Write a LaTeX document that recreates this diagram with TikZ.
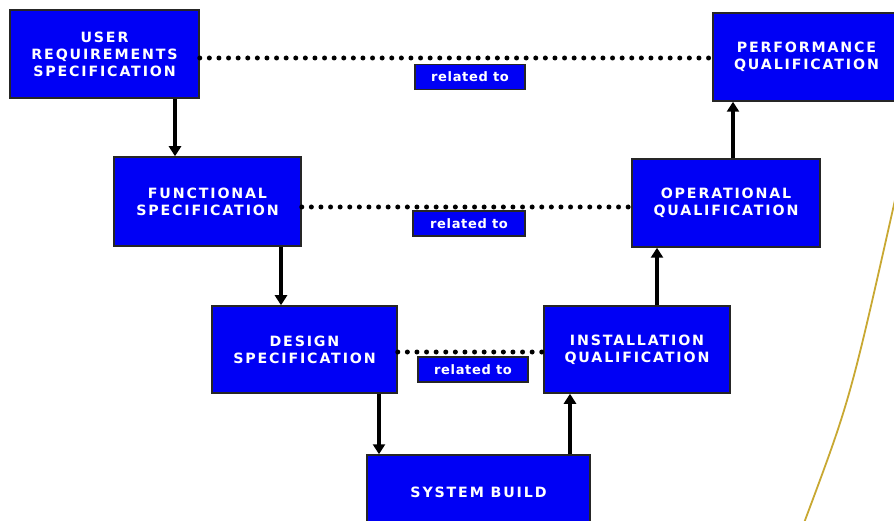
\documentclass[tikz,border=0pt]{standalone}
\usepackage{fontspec}
\setmainfont{DejaVu Sans}
\newfontfamily\boxfont[LetterSpace=13]{DejaVu Sans Bold}
\newfontfamily\relfont[LetterSpace=5]{DejaVu Sans Bold}
\usetikzlibrary{arrows.meta}
\definecolor{vblue}{RGB}{0,0,245}
\definecolor{gold}{RGB}{200,168,50}
\begin{document}
\begin{tikzpicture}[x=1pt,y=-1pt,
  stage/.style={draw=black!85,line width=1.5pt,fill=vblue,text=white,align=center,
    inner sep=0pt,font=\boxfont\fontsize{14.2}{17}\selectfont},
  rel/.style={draw=black!85,line width=1.5pt,fill=vblue,text=white,inner sep=0pt,
    minimum width=110pt,minimum height=25pt,font=\relfont\fontsize{13}{14}\selectfont},
  arr/.style={line width=4pt,-{Triangle[width=12pt,length=10pt]}},
  dots/.style={line width=5pt,line cap=round,dash pattern=on 0pt off 9.6pt}]
\useasboundingbox (0,0) rectangle (894,521);
\clip (0,0) rectangle (894,521);
\node[stage,minimum width=189pt,minimum height=88pt] (URS) at (104.5,54) {USER\\REQUIREMENTS\\SPECIFICATION};
\node[stage,minimum width=187pt,minimum height=88pt] (PQ) at (806.5,57) {PERFORMANCE\\QUALIFICATION};
\node[stage,minimum width=187pt,minimum height=89pt] (FS) at (207.5,201.5) {FUNCTIONAL\\SPECIFICATION};
\node[stage,minimum width=188pt,minimum height=88pt] (OQ) at (726,203) {OPERATIONAL\\QUALIFICATION};
\node[stage,minimum width=185pt,minimum height=87pt] (DS) at (304.5,349.5) {DESIGN\\SPECIFICATION};
\node[stage,minimum width=186pt,minimum height=87pt] (IQ) at (637,349.5) {INSTALLATION\\QUALIFICATION};
\node[stage,minimum width=223pt,minimum height=75pt] (SB) at (478.5,492.5) {SYSTEM BUILD};
% dotted relations
\draw[dots] (URS.east |- 0,58) -- (PQ.west |- 0,58);
\draw[dots] (FS.east |- 0,207) -- (OQ.west |- 0,207);
\draw[dots] (DS.east |- 0,352) -- (IQ.west |- 0,352);
\node[rel] (r1) at (470,77) {related to};
\node[rel,minimum width=112pt] (r2) at (469,223.5) {related to};
\node[rel] (r3) at (473,369.5) {related to};
% arrows
\draw[arr] (URS.south -| 175,0) -- (FS.north -| 175,0);
\draw[arr] (FS.south -| 281,0) -- (DS.north -| 281,0);
\draw[arr] (DS.south -| 379,0) -- (SB.north -| 379,0);
\draw[arr] (SB.north -| 570,0) -- (IQ.south -| 570,0);
\draw[arr] (IQ.north -| 657,0) -- (OQ.south -| 657,0);
\draw[arr] (OQ.north -| 733,0) -- (PQ.south -| 733,0);
% curve
\coordinate (c0) at (895,200);
\coordinate (c1) at (804,523);
\draw[gold,line width=1.8pt] (c0) .. controls (850,400) .. (c1);
\end{tikzpicture}
\end{document}
